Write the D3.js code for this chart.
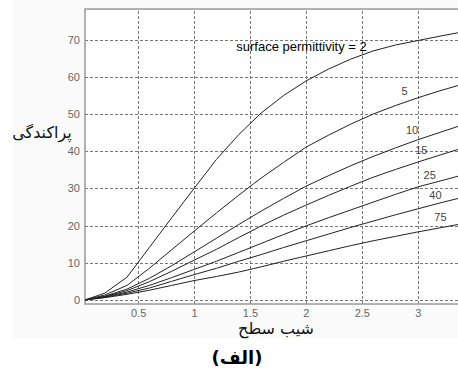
<!DOCTYPE html>
<html>
<head>
<meta charset="utf-8">
<script src="https://cdn.jsdelivr.net/npm/d3@7"></script>
<style>
  body { margin: 0; background: #fff; }
  svg { display: block; }
  .tick_text { font-family: "Liberation Sans", Arial, sans-serif; font-size: 11px; fill: #666; }
  .curve_label { font-family: "Liberation Sans", Arial, sans-serif; font-size: 11px; fill: #444; }
  .fa_text { font-family: "DejaVu Sans", sans-serif; fill: #111; }
</style>
</head>
<body>
<div id="chart"></div>
<script>
// surface slope (x) and scattering for each surface permittivity
var slope = [0.025, 0.2, 0.4, 0.6, 0.8, 1.0, 1.2, 1.4, 1.6, 1.8, 2.0, 2.2, 2.4, 2.6, 2.8, 3.0, 3.2, 3.36];
var eps2  = [0, 1.8, 6.1, 14.1, 22.1, 30.0, 37.8, 44.5, 50.3, 55.0, 58.9, 62.1, 64.8, 67.0, 68.6, 69.8, 71.0, 71.9];
var eps5  = [0, 1.3, 3.9, 8.5, 13.5, 18.5, 23.4, 28.2, 32.8, 37.0, 41.1, 44.3, 47.3, 50.0, 52.3, 54.4, 56.3, 57.7];
var eps10 = [0, 1.0, 2.9, 5.8, 9.2, 12.9, 16.6, 20.3, 23.9, 27.3, 30.6, 33.4, 36.1, 38.6, 40.9, 43.1, 45.1, 46.7];
var eps15 = [0, 0.9, 2.5, 4.9, 7.7, 10.7, 13.6, 16.8, 19.9, 22.8, 25.5, 28.1, 30.6, 33.0, 35.1, 37.1, 39.0, 40.5];
var eps25 = [0, 0.8, 2.1, 3.9, 6.0, 8.2, 10.4, 12.8, 15.2, 17.6, 19.9, 22.1, 24.2, 26.3, 28.4, 30.4, 32.0, 33.3];
var eps40 = [0, 0.7, 1.8, 3.2, 5.0, 6.8, 8.5, 10.4, 12.2, 14.1, 15.9, 17.7, 19.5, 21.2, 22.9, 24.5, 26.1, 27.3];
var eps75 = [0, 0.6, 1.5, 2.6, 3.9, 5.2, 6.3, 7.5, 8.9, 10.4, 11.8, 13.2, 14.6, 15.9, 17.1, 18.3, 19.4, 20.3];

var series = [eps2, eps5, eps10, eps15, eps25, eps40, eps75];
var series_names = ["surface permittivity = 2", "5", "10", "15", "25", "40", "75"];
// where each curve's label sits, in data units
var label_x = [1.378, 2.883, 2.949, 3.032, 3.107, 3.158, 3.203];
var label_y = [68.1, 56.3, 45.75, 40.2, 33.5, 28.1, 22.2];

var x_ticks = [0.5, 1, 1.5, 2, 2.5, 3];
var y_ticks = [0, 10, 20, 30, 40, 50, 60, 70];

var w_svg = 458, h_svg = 378;
var margin = {top: 9, right: 0, bottom: 74, left: 85};
var w = w_svg - margin.left - margin.right,
    h = h_svg - margin.top - margin.bottom;

var svg = d3.select("#chart").append("svg")
    .attr("width", w_svg)
    .attr("height", h_svg);

// faint figure panel
svg.append("rect")
   .attr("x", 12).attr("y", 0)
   .attr("width", w_svg - 12).attr("height", 338)
   .style("fill", "#fafafa");

var x = d3.scaleLinear().domain([0.025, 3.36]).range([margin.left, margin.left + w]);
var y = d3.scaleLinear().domain([-1.1, 78.3]).range([margin.top + h, margin.top]);

svg.append("rect")
   .attr("x", margin.left).attr("y", margin.top)
   .attr("width", w).attr("height", h)
   .style("fill", "#fff");

// grid
var grid_x = svg.append("g")
   .attr("transform", "translate(0," + (margin.top + h) + ")")
   .call(d3.axisBottom(x).tickValues(x_ticks).tickSize(-h).tickFormat(""));
var grid_y = svg.append("g")
   .attr("transform", "translate(" + margin.left + ",0)")
   .call(d3.axisLeft(y).tickValues(y_ticks).tickSize(-w).tickFormat(""));
[grid_x, grid_y].forEach(function(g) {
  g.select(".domain").remove();
  g.selectAll("line")
   .style("stroke", "#777")
   .style("stroke-width", 1)
   .style("stroke-dasharray", "3,2")
   .attr("shape-rendering", "crispEdges");
});

// tick labels
var lab_x = svg.append("g")
   .attr("transform", "translate(0," + (margin.top + h) + ")")
   .call(d3.axisBottom(x).tickValues(x_ticks).tickSize(0).tickPadding(5).tickFormat(function(d) { return String(d); }));
var lab_y = svg.append("g")
   .attr("transform", "translate(" + margin.left + ",0)")
   .call(d3.axisLeft(y).tickValues(y_ticks).tickSize(0).tickPadding(5));
[lab_x, lab_y].forEach(function(g) {
  g.select(".domain").remove();
  g.selectAll("text").attr("class", "tick_text").attr("font-family", null).attr("font-size", null);
});

// axes box (left, bottom, top)
svg.append("path")
   .attr("d", "M" + (margin.left + w) + "," + margin.top + "H" + margin.left +
              "V" + (margin.top + h) + "H" + (margin.left + w))
   .style("fill", "none")
   .style("stroke", "#999")
   .style("stroke-width", 1.5);

// curves
var line = d3.line()
   .x(function(d, i) { return x(slope[i]); })
   .y(function(d) { return y(d); });

svg.selectAll(".curve")
   .data(series)
   .enter().append("path")
   .attr("class", "curve")
   .attr("d", line)
   .style("fill", "none")
   .style("stroke", "#222")
   .style("stroke-width", 1);

// curve labels
svg.selectAll(".curve_label")
   .data(series_names)
   .enter().append("text")
   .attr("class", "curve_label")
   .attr("x", function(d, i) { return x(label_x[i]); })
   .attr("y", function(d, i) { return y(label_y[i]); })
   .attr("dy", "0.35em")
   .attr("text-anchor", function(d, i) { return i == 0 ? "start" : "middle"; })
   .style("fill", function(d, i) { return i == 0 ? "#000" : "#444"; })
   .style("font-size", function(d, i) { return i == 0 ? "13px" : "11px"; })
   .text(function(d) { return d; });

// axis titles
svg.append("text")
   .attr("class", "fa_text")
   .attr("x", 42).attr("y", 132)
   .attr("dy", "0.35em")
   .attr("text-anchor", "middle")
   .attr("direction", "rtl")
   .style("font-size", "16px")
   .text("پراکندگی");

svg.append("text")
   .attr("class", "fa_text")
   .attr("x", 276).attr("y", 328)
   .attr("dy", "0.35em")
   .attr("text-anchor", "middle")
   .attr("direction", "rtl")
   .style("font-size", "16px")
   .text("شیب سطح");

svg.append("text")
   .attr("class", "fa_text")
   .attr("x", 237).attr("y", 358)
   .attr("dy", "0.35em")
   .attr("text-anchor", "middle")
   .style("font-size", "18px")
   .style("font-weight", "bold")
   .style("fill", "#000")
   .text("(الف)");
</script>
</body>
</html>
